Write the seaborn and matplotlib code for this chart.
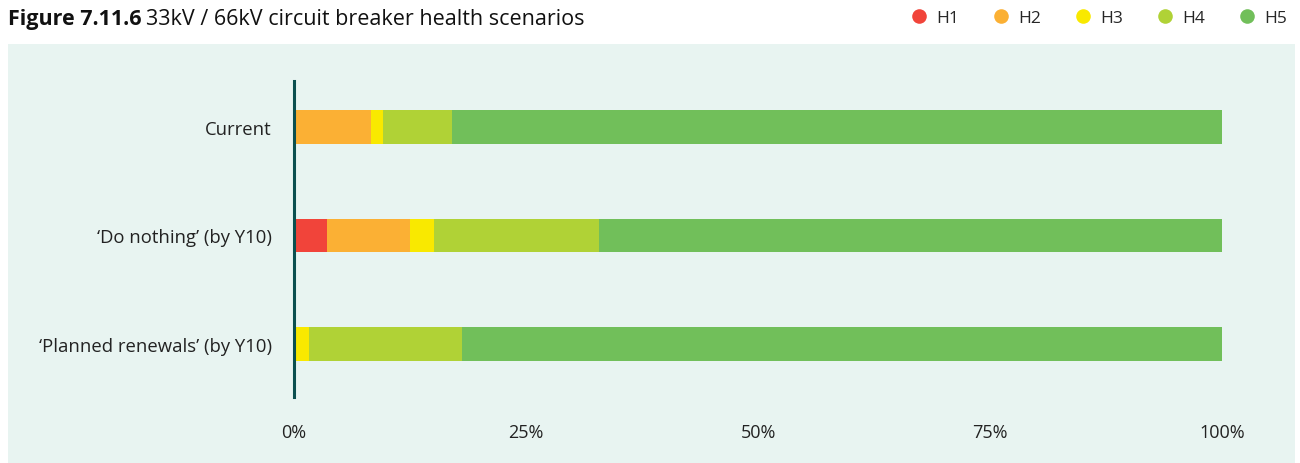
import numpy as np
import pandas as pd
import seaborn as sns
from matplotlib import pyplot as plt
from matplotlib.lines import Line2D
from matplotlib.patches import Rectangle

scenarios = ["Current", "\u2018Do nothing\u2019 (by Y10)", "\u2018Planned renewals\u2019 (by Y10)"]
bands = ["H1", "H2", "H3", "H4", "H5"]
h1 = [0.0, 3.6, 0.0]
h2 = [8.3, 8.9, 0.0]
h3 = [1.3, 2.6, 1.6]
h4 = [7.4, 17.8, 16.5]
h5 = [83.0, 67.1, 81.9]
colours = ["#F1443A", "#FBB034", "#F9E900", "#B0D236", "#71BF5A"]
ticks = [0, 25, 50, 75, 100]
tick_labels = ["0%", "25%", "50%", "75%", "100%"]

sns.set_style("white")
plt.rcParams["font.family"] = ["Open Sans", "DejaVu Sans"]

df = pd.DataFrame({"scenario": scenarios, "H1": h1, "H2": h2, "H3": h3, "H4": h4, "H5": h5})
cum = df[bands].cumsum(axis=1)

fig = plt.figure(figsize=(13, 4.64), dpi=100)
fig.patch.set_facecolor("white")
# mint panel behind the chart
fig.add_artist(Rectangle((8 / 1300, 0), 1287 / 1300, 1 - 45 / 464,
                         transform=fig.transFigure, facecolor="#E8F4F1",
                         edgecolor="none", zorder=0))

ax = fig.add_axes([294 / 1300, 1 - 398 / 464, 928 / 1300, 316 / 464])
ax.patch.set_alpha(0)

# stacked bars: draw cumulative totals, largest first
for band, colour in reversed(list(zip(bands, colours))):
    sns.barplot(x=cum[band], y=df["scenario"], orient="h", color=colour,
                saturation=1, width=0.31, linewidth=0, ax=ax)

ax.set_xlim(0, 100)
ax.set_ylim(2.49, -0.424)
ax.set_xticks(ticks)
ax.set_xticklabels(tick_labels)
ax.set_xlabel("")
ax.set_ylabel("")
ax.tick_params(axis="x", length=0, pad=19, labelsize=13, colors="#222222")
ax.tick_params(axis="y", length=0, pad=16, labelsize=13.3, colors="#222222")
for side in ["top", "right", "bottom"]:
    ax.spines[side].set_visible(False)
ax.spines["left"].set_color("#0B4F4F")
ax.spines["left"].set_linewidth(2.2)

# title: bold figure number then regular text
t1 = fig.text(8 / 1300, 1 - 25 / 464, "Figure 7.11.6", fontsize=15.5, fontweight="bold",
              color="#111111", va="baseline", ha="left")
fig.canvas.draw()
bb = t1.get_window_extent()
fig.text((bb.x1 + 5) / 1300, 1 - 25 / 464, "33kV / 66kV circuit breaker health scenarios",
         fontsize=15.5, color="#111111", va="baseline", ha="left")

handles = [Line2D([], [], marker="o", linestyle="", markersize=10.5, color=c,
                  markeredgewidth=0) for c in colours]
fig.legend(handles, bands, loc="center right", bbox_to_anchor=(1294 / 1300, 1 - 19 / 464),
           ncol=5, frameon=False, fontsize=12.5, handletextpad=0.5, columnspacing=1.9,
           handlelength=1.0, borderaxespad=0)

fig.savefig("out.png", dpi=100, facecolor="white")
